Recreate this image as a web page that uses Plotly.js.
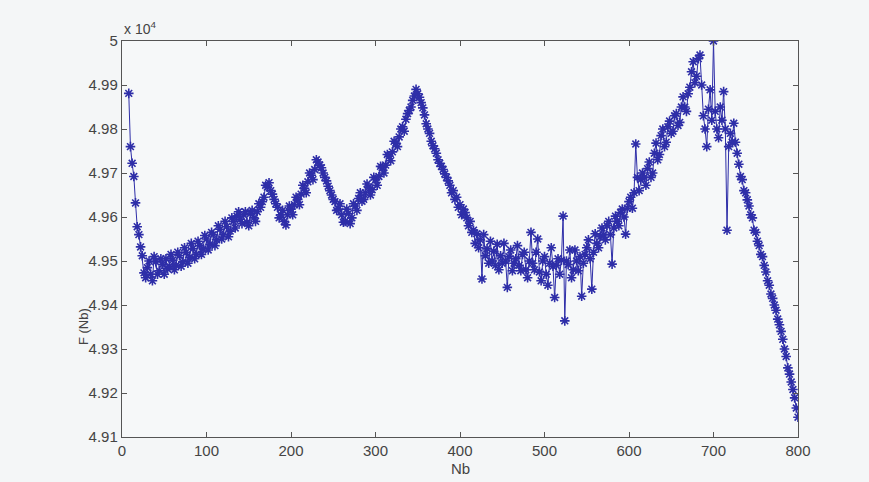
<!DOCTYPE html>
<html>
<head>
<meta charset="utf-8">
<script src="https://cdn.plot.ly/plotly-3.0.1.min.js"></script>
<style>html,body{margin:0;padding:0;background:#f4f6f7;}#chart{width:869px;height:482px;}</style>
</head>
<body>
<div id="chart"></div>
<script>
// Nb (x) values
const nb = [
  8,10,12,14,16,18,20,22,24,26,28,30,32,34,36,38,40,42,44,46,
  48,50,52,54,56,58,60,62,64,66,68,70,72,74,76,78,80,82,84,86,
  88,90,92,94,96,98,100,102,104,106,108,110,112,114,116,118,120,122,124,126,
  128,130,132,134,136,138,140,142,144,146,148,150,152,154,156,158,160,162,164,166,
  168,170,172,174,176,178,180,182,184,186,188,190,192,194,196,198,200,202,204,206,
  208,210,212,214,216,218,220,222,224,226,228,230,232,234,236,238,240,242,244,246,
  248,250,252,254,256,258,260,262,264,266,268,270,272,274,276,278,280,282,284,286,
  288,290,292,294,296,298,300,302,304,306,308,310,312,314,316,318,320,322,324,326,
  328,330,332,334,336,338,340,342,344,346,348,350,352,354,356,358,360,362,364,366,
  368,370,372,374,376,378,380,382,384,386,388,390,392,394,396,398,400,402,404,406,
  408,410,412,414,416,418,420,422,424,426,428,430,432,434,436,438,440,442,444,446,
  448,450,452,454,456,458,460,462,464,466,468,470,472,474,476,478,480,482,484,486,
  488,490,492,494,496,498,500,502,504,506,508,510,512,514,516,518,520,522,524,526,
  528,530,532,534,536,538,540,542,544,546,548,550,552,554,556,558,560,562,564,566,
  568,570,572,574,576,578,580,582,584,586,588,590,592,594,596,598,600,602,604,606,
  608,610,612,614,616,618,620,622,624,626,628,630,632,634,636,638,640,642,644,646,
  648,650,652,654,656,658,660,662,664,666,668,670,672,674,676,678,680,682,684,686,
  688,690,692,694,696,698,700,702,704,706,708,710,712,714,716,718,720,722,724,726,
  728,730,732,734,736,738,740,742,744,746,748,750,752,754,756,758,760,762,764,766,
  768,770,772,774,776,778,780,782,784,786,788,790,792,794,796,798,800
];
// F(Nb) values, in units of 10^4
const fnb = [
  4.9881,4.9760,4.9722,4.9692,4.9632,4.9578,4.9560,4.9532,4.9512,4.9473,4.9462,4.9485,4.9500,4.9470,4.9455,4.9510,4.9498,4.9470,4.9478,4.9505,
  4.9492,4.9470,4.9505,4.9482,4.9488,4.9515,4.9502,4.9480,4.9490,4.9520,4.9512,4.9488,4.9498,4.9530,4.9520,4.9495,4.9508,4.9540,4.9528,4.9505,
  4.9515,4.9545,4.9535,4.9515,4.9528,4.9558,4.9550,4.9525,4.9538,4.9565,4.9560,4.9535,4.9548,4.9580,4.9572,4.9550,4.9560,4.9590,4.9578,4.9555,
  4.9568,4.9598,4.9590,4.9575,4.9602,4.9612,4.9595,4.9585,4.9605,4.9612,4.9588,4.9580,4.9608,4.9615,4.9598,4.9590,4.9612,4.9630,4.9622,4.9635,
  4.9645,4.9672,4.9668,4.9678,4.9660,4.9652,4.9640,4.9630,4.9622,4.9598,4.9605,4.9615,4.9590,4.9582,4.9605,4.9625,4.9618,4.9605,4.9628,4.9645,
  4.9640,4.9628,4.9652,4.9672,4.9665,4.9655,4.9680,4.9700,4.9695,4.9685,4.9708,4.9730,4.9725,4.9718,4.9712,4.9700,4.9690,4.9682,4.9670,4.9660,
  4.9650,4.9640,4.9635,4.9615,4.9618,4.9630,4.9605,4.9588,4.9590,4.9618,4.9608,4.9585,4.9598,4.9630,4.9625,4.9615,4.9642,4.9655,4.9636,4.9640,
  4.9655,4.9675,4.9668,4.9650,4.9662,4.9690,4.9685,4.9672,4.9692,4.9715,4.9712,4.9700,4.9718,4.9742,4.9738,4.9728,4.9748,4.9772,4.9768,4.9760,
  4.9782,4.9800,4.9805,4.9795,4.9822,4.9835,4.9842,4.9850,4.9865,4.9875,4.9890,4.9880,4.9872,4.9860,4.9848,4.9832,4.9812,4.9800,4.9790,4.9772,
  4.9762,4.9755,4.9745,4.9730,4.9722,4.9715,4.9708,4.9698,4.9690,4.9682,4.9672,4.9655,4.9660,4.9640,4.9645,4.9622,4.9628,4.9605,4.9618,4.9610,
  4.9598,4.9580,4.9590,4.9565,4.9570,4.9540,4.9562,4.9530,4.9548,4.9459,4.9560,4.9512,4.9528,4.9495,4.9545,4.9500,4.9522,4.9490,4.9538,4.9480,
  4.9512,4.9495,4.9540,4.9500,4.9440,4.9510,4.9525,4.9478,4.9495,4.9505,4.9535,4.9490,4.9478,4.9515,4.9520,4.9480,4.9462,4.9500,4.9565,4.9495,
  4.9480,4.9520,4.9550,4.9475,4.9455,4.9500,4.9510,4.9470,4.9445,4.9495,4.9530,4.9488,4.9417,4.9490,4.9505,4.9470,4.9502,4.9602,4.9364,4.9500,
  4.9492,4.9525,4.9462,4.9480,4.9525,4.9500,4.9478,4.9510,4.9420,4.9495,4.9515,4.9530,4.9548,4.9505,4.9436,4.9520,4.9562,4.9540,4.9530,4.9555,
  4.9575,4.9560,4.9548,4.9580,4.9590,4.9560,4.9493,4.9575,4.9602,4.9590,4.9580,4.9610,4.9618,4.9600,4.9561,4.9620,4.9635,4.9645,4.9620,4.9655,
  4.9766,4.9690,4.9660,4.9685,4.9700,4.9690,4.9672,4.9710,4.9725,4.9690,4.9700,4.9745,4.9768,4.9730,4.9742,4.9785,4.9800,4.9760,4.9770,4.9805,
  4.9818,4.9790,4.9795,4.9830,4.9835,4.9808,4.9815,4.9850,4.9873,4.9850,4.9840,4.9880,4.9895,4.9930,4.9953,4.9905,4.9920,4.9960,4.9968,4.9900,
  4.9830,4.9800,4.9760,4.9845,4.9889,4.9820,5.0000,4.9840,4.9800,4.9780,4.9850,4.9820,4.9885,4.9800,4.9570,4.9760,4.9790,4.9770,4.9813,4.9770,
  4.9745,4.9720,4.9692,4.9685,4.9660,4.9655,4.9639,4.9625,4.9605,4.9598,4.9570,4.9565,4.9545,4.9535,4.9515,4.9510,4.9490,4.9475,4.9455,4.9445,
  4.9425,4.9415,4.9400,4.9388,4.9368,4.9355,4.9340,4.9322,4.9300,4.9283,4.9257,4.9243,4.9225,4.9208,4.9189,4.9166,4.9145
];
const yTickVals = [4.91,4.92,4.93,4.94,4.95,4.96,4.97,4.98,4.99,5.00];
const yTickText = ['4.91','4.92','4.93','4.94','4.95','4.96','4.97','4.98','4.99','5'];
const xTickVals = [0,100,200,300,400,500,600,700,800];

const tickFont = {family: '"Liberation Sans Narrow", "Liberation Sans", Arial, sans-serif', size: 15, color: '#444'};

const trace = {
  x: nb, y: fnb, type: 'scatter', mode: 'lines+markers',
  line: {color: '#2e2ea8', width: 1},
  marker: {symbol: 'asterisk-open', size: 8, color: '#2e2ea8', line: {color: '#2e2ea8', width: 1.6}},
  hoverinfo: 'skip'
};

const axisCommon = {
  showgrid: false, zeroline: false, showline: true, linecolor: '#555', linewidth: 1.2,
  mirror: 'ticks', ticks: 'inside', ticklen: 5, tickcolor: '#555', tickwidth: 1,
  tickfont: tickFont
};

const layout = {
  width: 869, height: 482,
  margin: {l: 122, r: 71, t: 41, b: 45},
  paper_bgcolor: '#f4f6f7', plot_bgcolor: '#f6f8f9',
  showlegend: false,
  xaxis: Object.assign({}, axisCommon, {range: [0, 800], tickmode: 'array', tickvals: xTickVals}),
  yaxis: Object.assign({}, axisCommon, {range: [4.91, 5.0], tickmode: 'array', tickvals: yTickVals, ticktext: yTickText}),
  annotations: [
    {text: 'Nb', xref: 'paper', yref: 'paper', x: 0.5, y: -0.08, xanchor: 'center', yanchor: 'middle', showarrow: false, font: tickFont},
    {text: 'F (Nb)', xref: 'paper', yref: 'paper', x: -0.056, y: 0.278, xanchor: 'center', yanchor: 'middle', textangle: -90, showarrow: false, font: {family: tickFont.family, size: 13, color: '#444'}},
    {text: 'x 10<sup>4</sup>', xref: 'paper', yref: 'paper', x: 0.0, y: 1.0, xanchor: 'left', yanchor: 'bottom', yshift: 2, showarrow: false, font: {family: tickFont.family, size: 14, color: '#444'}}
  ]
};

Plotly.newPlot('chart', [trace], layout, {displayModeBar: false, staticPlot: true});
</script>
</body>
</html>
